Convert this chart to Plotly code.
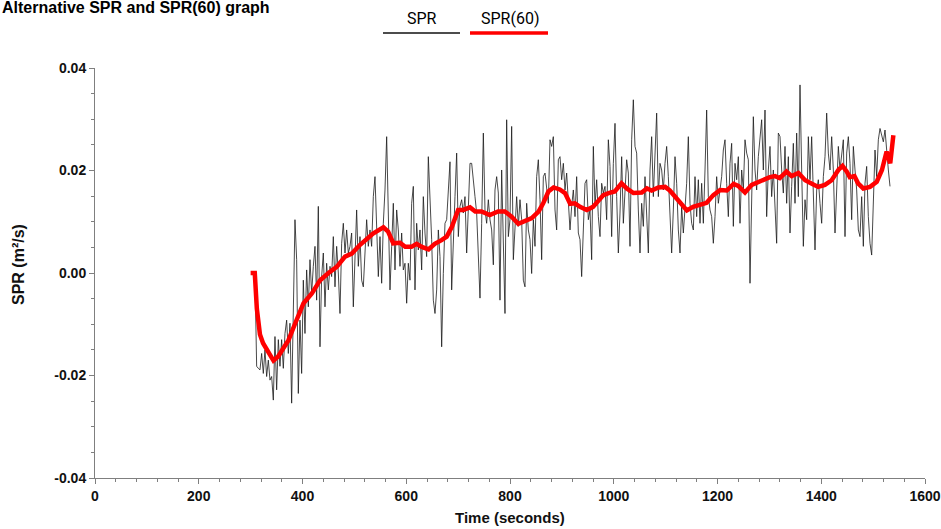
import plotly.graph_objects as go

# ---------------- data ----------------
# raw SPR samples (m^2/s), sampled every ~3.213 s starting at t = 308.4 s
spr_t0 = 308.4
spr_dt = 3.213
spr_milli = [
    # 308 - 540 s
    -0.4, -18.2, -18.6, -18.9, -15.7, -19.6, -15.0, -20.2, -17.0, -20.9,
    -20.2, -24.8, -12.4, -22.8, -13.0, -18.2, -13.0, -18.6, -11.8, -9.2,
    -15.7, -9.8, -25.4, -6.6, 10.4, 2.6, -23.5, -9.2, -19.6, -1.4,
    -11.8, 0.6, -6.6, 2.6, -4.0, 1.3, 5.2, -5.3, 13.0, -14.4,
    -0.7, 3.9, -6.6, 1.9, -3.3, 1.3, -0.7, 7.1, -2.7, 5.2,
    0.0, -7.9, 5.8, 9.7, 3.9, 8.4, 3.9, 5.2, 7.8, -6.6,
    3.9, 12.3, 1.3, 7.1, -1.4, -2.7, 3.9, 10.4, 5.2, 8.4,
    5.2, 14.9, 18.8,
    # 543 - 787 s
    8.4, -0.7, 7.1, -2.0, 9.7, 16.2, 26.6, 13.0, -3.3, 5.2,
    13.6, 0.6, 12.3, 8.4, 1.3, 7.8, 0.6, 1.9, -5.9, 1.9,
    -1.4, 13.6, 16.9, -3.3, 9.7, 4.5, 8.4, 0.6, 14.9, 7.8,
    3.2, 22.7, 15.6, 6.5, -5.3, -7.9, -3.3, 8.4, 3.2, -14.4,
    -0.1, 9.7, 10.4, 16.2, 21.7, -3.3, 8.4, 14.9, 23.4, 7.1,
    13.0, 14.3, 11.7, 14.9, 3.9, 13.6, 21.4, 21.4, 17.5, 14.9,
    11.7, 1.9, -4.9, 9.7, 27.3, 12.3, 9.7, 14.3, 10.4, 8.4,
    1.6, 16.2, 18.8, 15.6, -5.3, 20.1, 5.2,
    # 790 - 1038 s
    -7.9, 29.9, 7.1, 10.4, 28.6, 2.6, 10.4, 14.9, 9.1, 14.3,
    10.4, -1.4, -2.7, 13.6, 8.4, 6.5, -0.1, 10.4, 5.2, 18.8,
    22.1, 14.3, 2.6, 18.8, 19.5, 16.9, 13.6, 26.0, 24.7, 26.6,
    12.3, 8.4, 22.1, 22.7, 18.2, 21.4, 16.2, 19.5, 13.0, 8.4,
    13.0, 16.2, 11.0, 18.8, 7.8, 6.5, -0.7, 10.4, 17.5, 18.2,
    10.4, 12.3, 2.6, 24.7, 13.0, 18.2, 11.0, 7.1, 17.5, 15.6,
    16.9, 10.4, 26.0, 20.8, 7.1, 21.4, 29.2, 14.9, 3.9, 11.7,
    22.7, 9.7, 16.2, 22.1, 19.5, 5.2, 26.0, 33.8,
    # 1041 - 1288 s
    24.7, 23.4, 12.3, 3.9, 13.6, 9.1, 18.8, 12.3, 3.9, 20.1,
    26.6, 14.9, 24.0, 31.2, 14.9, 21.4, 20.1, 16.2, 21.4, 24.7,
    18.8, 11.0, 3.9, 12.3, 22.7, 17.5, 8.4, 3.9, 13.0, 7.8,
    13.6, 17.5, 26.6, 13.6, 9.7, 8.4, 18.8, 11.0, 18.2, 9.7,
    17.5, 9.7, 20.1, 31.8, 14.9, 12.3, 11.0, 5.8, 11.0, 18.8,
    13.6, 16.2, 18.8, 24.0, 26.0, 17.5, 11.0, 21.4, 25.3, 9.1,
    21.4, 18.2, 22.7, 9.7, 20.1, 16.2, 26.0, 23.4, 22.1, -2.0,
    17.5, 30.5, 20.1, 16.2, 22.7, 26.6, 29.9, 20.1,
    # 1291 - 1532 s
    31.8, 11.0, 20.1, 24.7, 14.9, 20.1, 12.3, 5.8, 27.3, 26.6,
    20.1, 15.6, 24.7, 13.6, 22.7, 7.8, 16.9, 25.3, 13.6, 27.3,
    14.9, 36.7, 20.1, 5.2, 14.3, 10.4, 26.6, 18.2, 26.6, 14.9,
    4.5, 16.2, 18.2, 13.6, 9.7, 18.8, 22.7, 31.2, 23.4, 20.1,
    26.6, 20.1, 7.8, 16.2, 24.7, 20.1, 23.4, 26.0, 7.1, 23.4,
    26.6, 21.4, 10.4, 24.7, 20.1, 16.2, 8.4, 7.1, 14.9, 5.2,
    17.5, 20.8, 11.0, 5.8, 3.5, 13.6, 24.0, 18.8, 26.0, 28.2,
    26.6, 25.6, 27.9, 23.4, 20.1, 16.9,
]

# SPR(60) smoothed curve
spr60_time = [
    300, 308, 312, 318, 324, 334, 344, 353, 363, 373, 386, 402, 418, 434, 450,
    466, 482, 495, 511, 520, 536, 556, 565, 575, 588, 598, 610, 620, 630, 643,
    655, 668, 678, 688, 700, 710, 723, 733, 745, 761, 777, 790, 803, 816, 829,
    842, 855, 864, 874, 884, 896, 906, 916, 925, 935, 948, 960, 970, 980, 990,
    1002, 1015, 1025, 1038, 1054, 1064, 1073, 1086, 1099, 1108, 1121, 1131, 1141,
    1153, 1166, 1179, 1192, 1205, 1218, 1231, 1240, 1253, 1266, 1279, 1292, 1301,
    1311, 1320, 1333, 1343, 1356, 1369, 1382, 1394, 1407, 1420, 1433, 1441, 1449,
    1455, 1464, 1471, 1481, 1494, 1507, 1517, 1526, 1533, 1539,
]
spr60_value = [
    0.0, 0.0, -0.007, -0.012, -0.0137, -0.0155, -0.0171, -0.0163, -0.0147, -0.0131,
    -0.0098, -0.0059, -0.004, -0.0014, 0.0, 0.0012, 0.0032, 0.0038, 0.0055, 0.0064,
    0.0077, 0.0089, 0.0081, 0.0058, 0.0059, 0.0051, 0.0051, 0.0057, 0.0051, 0.0046,
    0.0057, 0.0064, 0.0071, 0.009, 0.0123, 0.0123, 0.0128, 0.012, 0.012, 0.0113,
    0.012, 0.012, 0.011, 0.0096, 0.0102, 0.0107, 0.012, 0.0136, 0.0159, 0.0167,
    0.0163, 0.0156, 0.0135, 0.0136, 0.0129, 0.0123, 0.0129, 0.0139, 0.0152, 0.0156,
    0.0159, 0.0175, 0.0165, 0.0156, 0.0157, 0.0165, 0.0161, 0.0167, 0.0168, 0.0161,
    0.0146, 0.0136, 0.0122, 0.0129, 0.0133, 0.0137, 0.0152, 0.0162, 0.0161, 0.0174,
    0.017, 0.0157, 0.0172, 0.0178, 0.0185, 0.0187, 0.0189, 0.0185, 0.0198, 0.0189,
    0.0195, 0.0181, 0.0174, 0.0168, 0.0172, 0.0181, 0.0201, 0.0209, 0.0198, 0.0187,
    0.0189, 0.0175, 0.0165, 0.0168, 0.0178, 0.0201, 0.0237, 0.0214, 0.0269,
]

x_ticks = [0, 200, 400, 600, 800, 1000, 1200, 1400, 1600]
y_ticks = [-0.04, -0.02, 0.0, 0.02, 0.04]
y_tick_labels = ["-0.04", "-0.02", "0.00", "0.02", "0.04"]

spr_time = [spr_t0 + i * spr_dt for i in range(len(spr_milli))]
spr_value = [v / 1000.0 for v in spr_milli]

# ---------------- figure ----------------
fig = go.Figure()
fig.add_trace(go.Scatter(x=spr_time, y=spr_value, mode="lines", name="SPR",
                         line=dict(color="#1a1a1a", width=0.8), showlegend=False))
fig.add_trace(go.Scatter(x=spr60_time, y=spr60_value, mode="lines", name="SPR(60)",
                         line=dict(color="#ff0000", width=4.5), showlegend=False))

W, H = 941, 529
L, R, T, B = 95, 16, 68, 51
pw, ph = W - L - R, H - T - B


def px(xp):
    return (xp - L) / pw


def py(yp):
    return (H - B - yp) / ph


FONT = "Liberation Sans, Arial, sans-serif"
tick_font = dict(family=FONT, size=14, color="#111", weight="bold")
axis_common = dict(showline=True, linecolor="#7f7f7f", linewidth=1, ticks="outside",
                   ticklen=5, tickcolor="#7f7f7f", showgrid=False, zeroline=False,
                   tickfont=tick_font, mirror=False, automargin=False)

fig.update_xaxes(range=[0, 1600], tickvals=x_ticks, ticktext=[str(v) for v in x_ticks],
                 minor=dict(ticks="outside", ticklen=3, dtick=40, tickcolor="#7f7f7f", showgrid=False),
                 **axis_common)
fig.update_yaxes(range=[-0.04, 0.04], tickvals=y_ticks, ticktext=y_tick_labels,
                 minor=dict(ticks="outside", ticklen=3, dtick=0.005, tickcolor="#7f7f7f", showgrid=False),
                 **axis_common)

annotations = [
    dict(text="<b>Alternative SPR and SPR(60) graph</b>", xref="paper", yref="paper",
         x=px(0), y=py(-3), xanchor="left", yanchor="top", showarrow=False,
         font=dict(family=FONT, size=16, color="#000")),
    dict(text="SPR", xref="paper", yref="paper", x=px(422), y=py(19),
         xanchor="center", yanchor="middle", showarrow=False,
         font=dict(family="Roboto, sans-serif", size=16, color="#000")),
    dict(text="SPR(60)", xref="paper", yref="paper", x=px(510), y=py(19),
         xanchor="center", yanchor="middle", showarrow=False,
         font=dict(family="Roboto, sans-serif", size=16, color="#000")),
    # axis titles
    dict(text="<b>Time (seconds)</b>", xref="paper", yref="paper", x=px(510), y=py(517),
         xanchor="center", yanchor="middle", showarrow=False,
         font=dict(family=FONT, size=15, color="#111")),
    dict(text="<b>SPR (m²/s)</b>", xref="paper", yref="paper", x=px(18), y=py(265),
         xanchor="center", yanchor="middle", showarrow=False, textangle=-90,
         font=dict(family=FONT, size=16, color="#111")),
]
shapes = [
    dict(type="line", xref="paper", yref="paper", x0=px(383), x1=px(460), y0=py(33), y1=py(33),
         line=dict(color="#111111", width=1.5)),
    dict(type="line", xref="paper", yref="paper", x0=px(470), x1=px(548), y0=py(33), y1=py(33),
         line=dict(color="#ff0000", width=3.5)),
]

fig.update_layout(width=W, height=H, margin=dict(l=L, r=R, t=T, b=B, pad=0, autoexpand=False),
                  paper_bgcolor="white", plot_bgcolor="white",
                  annotations=annotations, shapes=shapes, showlegend=False)

fig.write_html("out.html", config={"displayModeBar": False, "responsive": False})

# remove the browser's default page margin / scrollbars so the figure fills the window exactly
with open("out.html", "r", encoding="utf-8") as f:
    html = f.read()
html = html.replace("<head>", "<head><style>html,body{margin:0;padding:0;overflow:hidden;}</style>", 1)
with open("out.html", "w", encoding="utf-8") as f:
    f.write(html)
